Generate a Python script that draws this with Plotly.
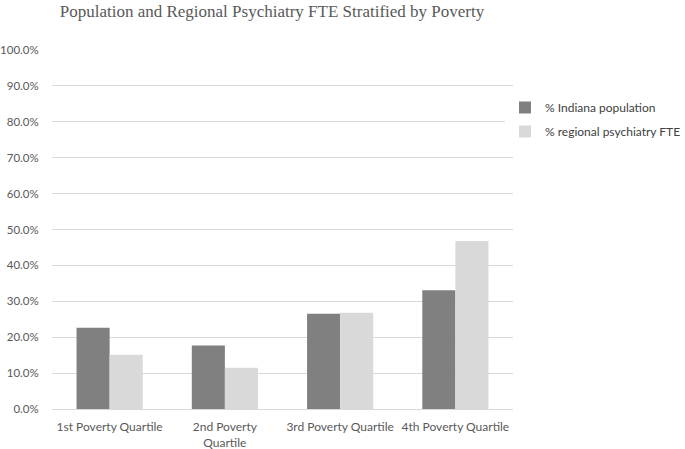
import plotly.graph_objects as go

categories = ["1st Poverty Quartile", "2nd Poverty<br>Quartile", "3rd Poverty Quartile", "4th Poverty Quartile"]
pop_pct = [0.226, 0.177, 0.265, 0.331]
fte_pct = [0.151, 0.115, 0.268, 0.468]
series_names = ["% Indiana population", "% regional psychiatry FTE"]
title_text = "Population and Regional Psychiatry FTE Stratified by Poverty"

gray_text = "#595959"
fig = go.Figure()
fig.add_trace(go.Bar(x=categories, y=pop_pct, name=series_names[0],
                     marker=dict(color="#808080", line=dict(width=0)), legendgroup="a"))
fig.add_trace(go.Bar(x=categories, y=fte_pct, name=series_names[1],
                     marker=dict(color="#d9d9d9", line=dict(width=0)), legendgroup="b"))

fig.update_layout(
    width=685, height=449,
    paper_bgcolor="white", plot_bgcolor="white",
    margin=dict(l=52, r=172, t=50, b=40, autoexpand=False),
    barmode="group", bargap=0.426, bargroupgap=0,
    font=dict(family="Lato, Open Sans, sans-serif", size=12, color=gray_text),
    title=dict(text=title_text, x=272/685, xanchor="center", xref="container",
               y=1-11/449, yanchor="middle", yref="container",
               font=dict(family="Liberation Serif, Times New Roman, serif", size=17, color=gray_text)),
    legend=dict(xref="container", yref="container", x=505/685, xanchor="left",
                y=1-93/449, yanchor="top", font=dict(size=12, color="#404040"),
                tracegroupgap=5, itemwidth=30),
    showlegend=True,
)
fig.update_yaxes(range=[0, 1.0], dtick=0.1, tickformat=".1%", showgrid=True,
                 gridcolor="#d9d9d9", gridwidth=1, zeroline=False, automargin=False,
                 ticks="outside", ticklen=10, tickcolor="rgba(0,0,0,0)",
                 tickfont=dict(size=11.5, color=gray_text), fixedrange=True)
fig.update_xaxes(showline=True, linecolor="#d9d9d9", linewidth=1, automargin=False,
                 ticks="outside", ticklen=7, tickcolor="rgba(0,0,0,0)",
                 tickfont=dict(size=12, color=gray_text), tickangle=0)

fig.write_html("out.html", config={"displayModeBar": False},
               post_script="document.body.style.margin='0px';")
